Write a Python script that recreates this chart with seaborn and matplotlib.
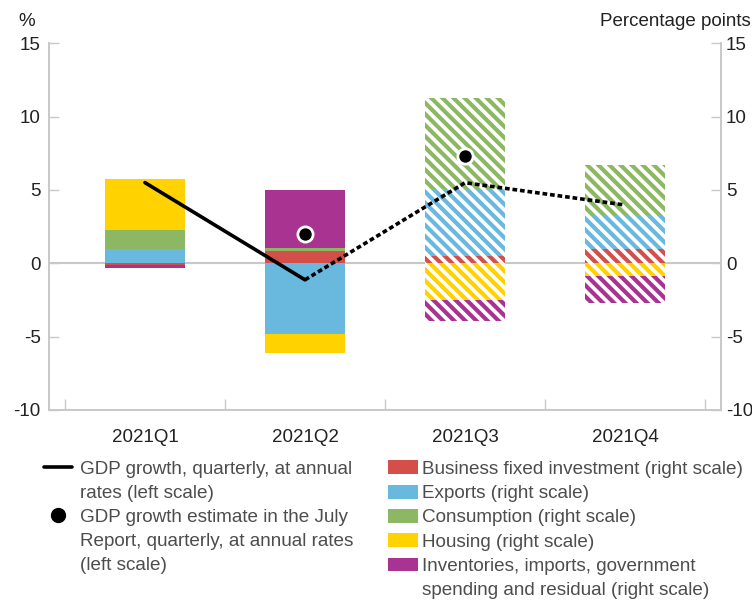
import numpy as np
import matplotlib.pyplot as plt
import seaborn as sns
from matplotlib.lines import Line2D
from matplotlib.patches import Patch

quarters = ['2021Q1', '2021Q2', '2021Q3', '2021Q4']
business = [-0.15, 0.84, 0.50, 0.95]
exports = [0.97, -4.81, 4.53, 2.34]
consumption = [1.30, 0.23, 6.27, 3.44]
housing = [3.50, -1.31, -2.50, -0.84]
inventories = [-0.15, 3.92, -1.45, -1.84]
gdp_growth = [5.50, -1.13, 5.49, 3.97]
july_quarters = [1, 2]
july_estimate = [1.97, 7.30]
projected = [False, False, True, True]

series = [
    (['Business fixed investment (right scale)'], business, '#d44f4a'),
    (['Exports (right scale)'], exports, '#69b8de'),
    (['Consumption (right scale)'], consumption, '#8db863'),
    (['Housing (right scale)'], housing, '#ffd200'),
    (['Inventories, imports, government', 'spending and residual (right scale)'], inventories, '#a93391'),
]

sns.set_theme(style='white')
plt.rcParams['font.family'] = ['Liberation Sans', 'DejaVu Sans']
plt.rcParams['axes.unicode_minus'] = False
plt.rcParams['hatch.linewidth'] = 3.0

grey = '#c8c8c8'
txt = '#222222'
fig = plt.figure(figsize=(7.52, 6.01), dpi=100)
ax = fig.add_axes([0.065, 0.318, 0.894, 0.61])
ax2 = ax.twinx()

x = np.arange(len(quarters))
pos = np.zeros(len(quarters))
neg = np.zeros(len(quarters))
for name, vals, col in series:
    vals = np.array(vals)
    bottom = np.where(vals >= 0, pos, neg)
    bars = ax2.bar(x, vals, bottom=bottom, width=0.5, color=col, linewidth=0)
    for patch, hatched in zip(bars, projected):
        if hatched:
            patch.set_facecolor('white')
            patch.set_edgecolor(col)
            patch.set_hatch('\\' * 3)
    pos = pos + np.where(vals >= 0, vals, 0)
    neg = neg + np.where(vals < 0, vals, 0)

ax2.axhline(0, color=grey, lw=1.5, zorder=0)

# GDP line on the left scale, drawn above the bars
ax.set_zorder(ax2.get_zorder() + 1)
ax.patch.set_visible(False)
sns.lineplot(x=x[:2], y=gdp_growth[:2], ax=ax, color='black', lw=2.6)
sns.lineplot(x=x[1:], y=gdp_growth[1:], ax=ax, color='black', lw=2.6,
             dashes=False, linestyle=(0, (1.3, 0.8)))
sns.scatterplot(x=july_quarters, y=july_estimate, ax=ax, color='black', s=120,
                edgecolor='white', linewidth=2, zorder=5)

for a in (ax, ax2):
    a.set_ylim(-10, 15)
    a.set_yticks([-10, -5, 0, 5, 10, 15])
    a.set_xlim(-0.6, 3.6)
    a.tick_params(axis='y', direction='in', length=7, width=1, color=grey,
                  labelsize=13.5, labelcolor=txt, pad=6)
    for s in a.spines.values():
        s.set_color(grey)
        s.set_linewidth(1.2)
    a.spines['top'].set_visible(False)
    a.set_xlabel('')
    a.set_ylabel('')
ax2.tick_params(axis='y', pad=3.5)

ax.set_xticks(x)
ax.set_xticklabels(quarters)
ax.set_xticks(np.arange(-0.5, 4, 1), minor=True)
ax.tick_params(axis='x', which='major', length=0, labelsize=13.5, labelcolor=txt, pad=14)
ax.tick_params(axis='x', which='minor', direction='in', length=8, width=1, color=grey, bottom=True)

fig.text(0.024, 0.965, '%', fontsize=13.5, color=txt, va='center', ha='left')
fig.text(0.998, 0.965, 'Percentage points', fontsize=13.5, color=txt, va='center', ha='right')

blank = Line2D([], [], lw=0)
left_handles = [Line2D([], [], color='black', lw=2.6), blank,
                Line2D([], [], marker='o', color='black', ls='none', markersize=10),
                blank, blank]
left_labels = ['GDP growth, quarterly, at annual', 'rates (left scale)',
               'GDP growth estimate in the July', 'Report, quarterly, at annual rates',
               '(left scale)']
right_handles, right_labels = [], []
for lines, _, col in series:
    right_handles.append(Patch(facecolor=col, edgecolor='none'))
    right_labels.append(lines[0])
    for extra in lines[1:]:
        right_handles.append(Patch(facecolor='none', edgecolor='none'))
        right_labels.append(extra)

common = dict(loc='upper left', frameon=False, fontsize=13.6, borderaxespad=0,
              borderpad=0, labelspacing=0.36, labelcolor='#4d4d4d')
fig.legend(left_handles, left_labels, bbox_to_anchor=(0.058, 0.234),
           handlelength=1.5, handletextpad=0.42, **common)
fig.legend(right_handles, right_labels, bbox_to_anchor=(0.516, 0.234),
           handlelength=1.6, handleheight=0.75, handletextpad=0.2, **common)

fig.savefig('out.png', dpi=100)
